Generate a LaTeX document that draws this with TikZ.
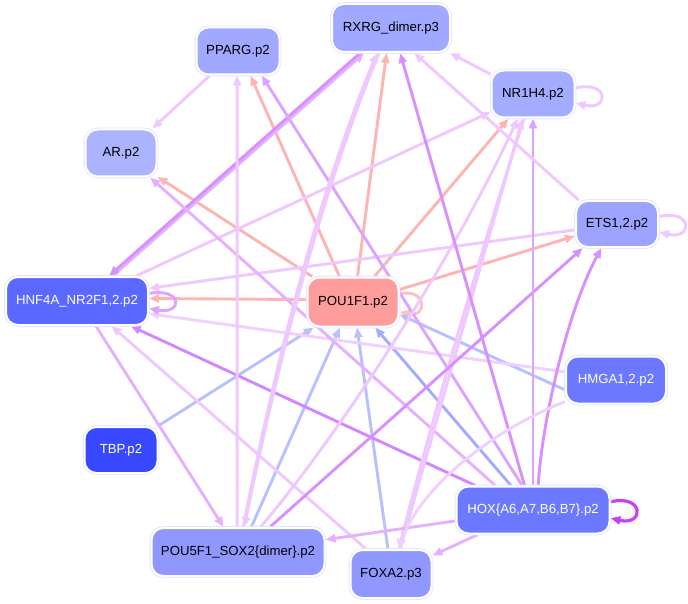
\documentclass[tikz,border=0pt]{standalone}
\usepackage{fontspec}
\setmainfont{Liberation Sans}
\usetikzlibrary{arrows.meta}
\definecolor{cSal}{HTML}{FFB4B4}
\definecolor{cSalL}{HTML}{FFC0C0}
\definecolor{cLp}{HTML}{EEC8FF}
\definecolor{cLpL}{HTML}{F0D0FF}
\definecolor{cLv}{HTML}{E4B0FF}
\definecolor{cLvD}{HTML}{DCA4FF}
\definecolor{cVi}{HTML}{D890FF}
\definecolor{cViD}{HTML}{D286FF}
\definecolor{cBl}{HTML}{B8C0FF}
\definecolor{cBlD}{HTML}{A4ACFF}
\definecolor{cMag}{HTML}{C840F4}
\definecolor{cHalo}{HTML}{E2E5FF}
\definecolor{nRX}{HTML}{A0A8FF}
\definecolor{nPP}{HTML}{A0A8FF}
\definecolor{nAR}{HTML}{ADB4FF}
\definecolor{nNR}{HTML}{A4ACFF}
\definecolor{nETS}{HTML}{9CA4FF}
\definecolor{nHNF}{HTML}{5A68FF}
\definecolor{nPOU}{HTML}{FF9C9C}
\definecolor{nHM}{HTML}{6C78FF}
\definecolor{nTBP}{HTML}{3848FF}
\definecolor{nHOX}{HTML}{6C78FF}
\definecolor{nP5}{HTML}{9098FF}
\definecolor{nFOX}{HTML}{9098FF}
\pgfdeclarelayer{bgfill}
\pgfdeclarelayer{edges}
\pgfsetlayers{bgfill,edges,main}
\begin{document}
\begin{tikzpicture}[x=1pt,y=-1pt,
  nd/.style={rounded corners=12pt, inner sep=0pt, outer sep=1pt,
    font=\fontsize{13.2}{15}\selectfont,
    preaction={draw=cHalo, line width=3.6pt}, draw=white, line width=2pt},
  ed/.style={line width=2.9pt, -{Triangle[length=10pt,width=8pt]}},
  edt/.style={line width=3pt, -{Triangle[length=10pt,width=8pt]}}]
\useasboundingbox (0,0) rectangle (688,604);
\begin{pgfonlayer}{bgfill}
\fill[white] (0,0) rectangle (688,604);
\end{pgfonlayer}

\node[nd, fill=nRX, minimum width=118pt, minimum height=48pt] (rx) at (391,28) {RXRG\_dimer.p3};
\node[nd, fill=nPP, minimum width=83pt, minimum height=47pt] (pp) at (238,51) {PPARG.p2};
\node[nd, fill=nAR, minimum width=71pt, minimum height=47pt] (ar) at (121,153) {AR.p2};
\node[nd, fill=nNR, minimum width=83pt, minimum height=47pt] (nr) at (533,94) {NR1H4.p2};
\node[nd, fill=nETS, minimum width=82pt, minimum height=46pt] (ets) at (617,224) {ETS1,2.p2};
\node[nd, fill=nHNF, text=white, minimum width=142pt, minimum height=48pt] (hnf) at (77,301) {HNF4A\_NR2F1,2.p2};
\node[nd, fill=nPOU, minimum width=91pt, minimum height=49pt] (pou1) at (353,302) {POU1F1.p2};
\node[nd, fill=nHM, text=white, minimum width=100pt, minimum height=47pt] (hm) at (616,380) {HMGA1,2.p2};
\node[nd, fill=nTBP, text=white, minimum width=73pt, minimum height=46pt] (tbp) at (121,450) {TBP.p2};
\node[nd, fill=nHOX, text=white, minimum width=153pt, minimum height=47pt] (hox) at (533,510) {HOX\{A6,A7,B6,B7\}.p2};
\node[nd, fill=nP5, minimum width=173pt, minimum height=48pt] (pou5) at (238,552) {POU5F1\_SOX2\{dimer\}.p2};
\node[nd, fill=nFOX, minimum width=81pt, minimum height=48pt] (fox) at (391,574) {FOXA2.p3};

\begin{pgfonlayer}{edges}
% POU1F1 outgoing
\draw[ed, cSal] (pou1.148) -- (ar.-33);
\draw[ed, cSal] (pou1.118) -- (pp.-63);
\draw[ed, cSal] (pou1.80) -- (rx.-100);
\draw[ed, cSal] (pou1.50) -- (nr.-135);
\draw[ed, cSal] (pou1.15) -- (ets.-164);
\draw[ed, cSal] (pou1.177) -- (hnf.2);
\draw[ed, cSalL] (pou1.10) .. controls +(28,-6) and +(28,6) .. (pou1.-12);
% into POU1F1
\draw[ed, cBl] (tbp.33) -- (pou1.-147);
\draw[ed, cBl] (pou5.62) -- (pou1.-117);
\draw[ed, cBl] (fox.97) -- (pou1.-81);
\draw[ed, cBlD] (hox.132) -- (pou1.-49);
\draw[ed, cBl] (hm.191) -- (pou1.-15);
% HNF4A related
\draw[ed, cLp] (ets.188) -- (hnf.10);
\draw[ed, cLpL] (hm.171) -- (hnf.-10);
\draw[ed, cLv] (hnf.35) -- (rx.-137);
\draw[ed, cVi] (rx.-141) -- (hnf.38);
\draw[ed, cLp] (hnf.23) -- (nr.-157);
\draw[ed, cLv] (hnf.-53) -- (pou5.120);
\draw[ed, cLp] (fox.135) -- (hnf.-36);
\draw[ed, cViD] (hox.157) -- (hnf.-25);
\draw[ed, cLvD] (hnf.6) .. controls +(34,-6) and +(34,6) .. (hnf.-6);
% AR / PPARG
\draw[ed, cLp] (pp.-139) -- (ar.38);
\draw[ed, cLv] (hox.147) -- (ar.-40);
\draw[ed, cLp] (pou5.92) -- (pp.-92);
\draw[ed, cLvD] (hox.114) -- (pp.-46);
% thick pairs
\draw[edt, cLp] (pou5.78) .. controls (270,390) and (312,210) .. (rx.-119);
\draw[edt, cLp] (rx.-116) .. controls (314,211) and (272,391) .. (pou5.76);
\draw[edt, cLp] (fox.70) -- (nr.-113);
\draw[edt, cLp] (nr.-110) .. controls (478,261) and (436,406) .. (fox.73);
% POU5F1 others
\draw[ed, cLp] (pou5.48) .. controls (335,440) and (452,262) .. (nr.-122);
\draw[ed, cVi] (pou5.38) -- (ets.-145);
% HOX others
\draw[ed, cLv] (hox.188) -- (pou5.8);
\draw[ed, cLv] (hox.204) -- (fox.24);
\draw[ed, cVi] (hox.109) -- (rx.-70);
\draw[ed, cLvD] (hox.north) -- (nr.south);
\draw[ed, cVi] (hox.78) .. controls (542,420) and (568,310) .. (ets.-123);
\draw[ed, line width=3.2pt, cMag] (hox.6) .. controls +(34,-8) and +(34,8) .. (hox.-6);
% HMGA -> FOXA2
\draw[ed, cLpL] (hm.203) .. controls (505,425) and (425,478) .. (fox.74);
% NR1H4 / ETS
\draw[ed, cLp] (nr.155) -- (rx.-23);
\draw[ed, cLp] (ets.148) -- (rx.-47);
\draw[ed, cLp] (nr.8) .. controls +(34,-8) and +(34,8) .. (nr.-12);
\draw[ed, cLp] (ets.10) .. controls +(34,-8) and +(34,8) .. (ets.-11);
\end{pgfonlayer}
\end{tikzpicture}
\end{document}
